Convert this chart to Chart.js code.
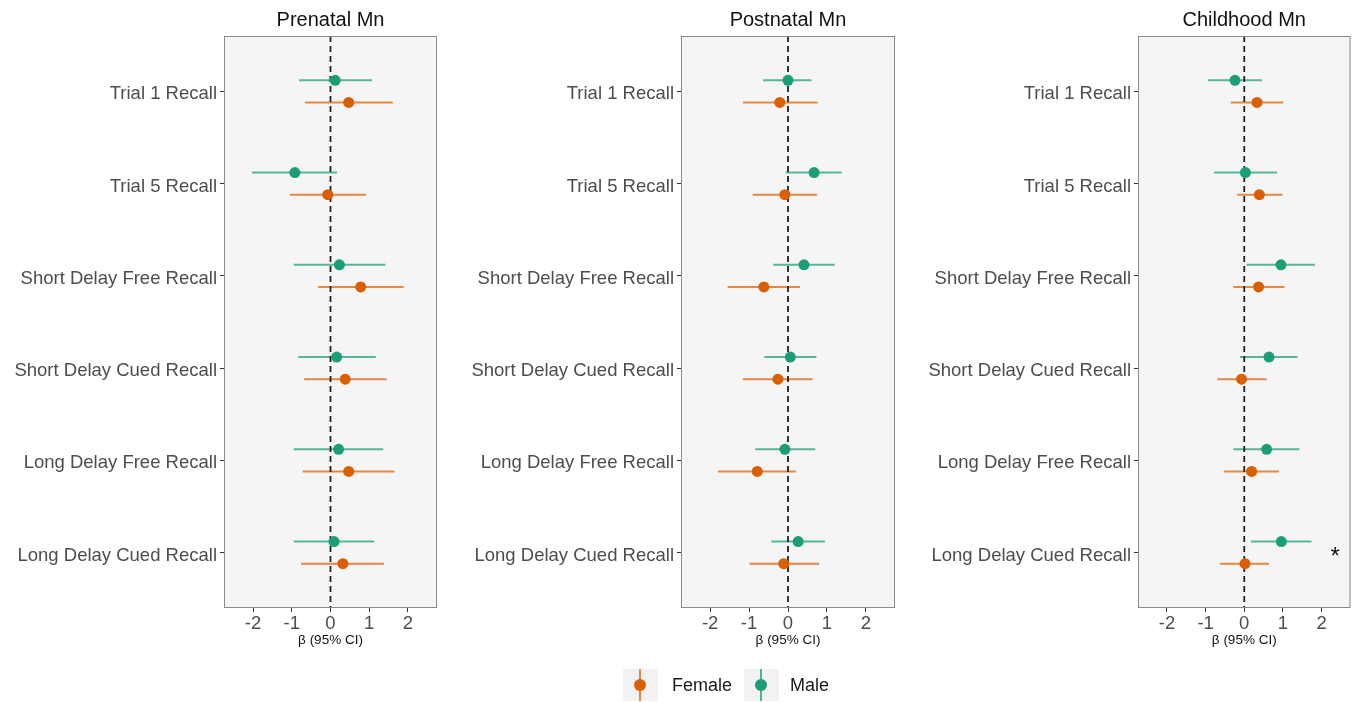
<!DOCTYPE html>
<html>
<head>
<meta charset="utf-8">
<script src="https://cdn.jsdelivr.net/npm/chart.js@4.4.1/dist/chart.umd.min.js"></script>
<style>
  body { margin: 0; background: #fff; width: 1356px; height: 702px; position: relative; overflow: hidden;
         font-family: "Liberation Sans", Arial, sans-serif; }
  canvas { position: absolute; top: 0; }
  #legend { position: absolute; top: 669px; left: 623px; display: flex; align-items: center; font-size: 18px; color: #1a1a1a; }
  .key { width: 35px; height: 32px; background: #f2f2f2; position: relative; margin-right: 14px; }
  .key .bar { position: absolute; left: 16px; top: 0; width: 2px; height: 32px; }
  .key .dot { position: absolute; left: 11px; top: 10px; width: 12px; height: 12px; border-radius: 50%; }
  .lab { margin-right: 12px; }
</style>
</head>
<body>
<canvas id="prenatal" width="445" height="702" style="left:0px"></canvas>
<canvas id="postnatal" width="455" height="702" style="left:450px"></canvas>
<canvas id="childhood" width="451" height="702" style="left:905px"></canvas>
<div id="legend">
  <div class="key"><div class="bar" style="background:rgba(217,95,2,0.75)"></div><div class="dot" style="background:#D95F02"></div></div>
  <span class="lab">Female</span>
  <div class="key" style="margin-right:11px"><div class="bar" style="background:rgba(27,158,119,0.75)"></div><div class="dot" style="background:#1B9E77"></div></div>
  <span>Male</span>
</div>
<script>
// outcomes (top to bottom) and x ticks
const rows = ['Trial 1 Recall', 'Trial 5 Recall', 'Short Delay Free Recall',
              'Short Delay Cued Recall', 'Long Delay Free Recall', 'Long Delay Cued Recall'];
const xTicks = [-2, -1, 0, 1, 2];

// Prenatal Mn
const prenatalFemale   = [0.47, -0.07, 0.78, 0.38, 0.47, 0.32];
const prenatalFemaleLo = [-0.66, -1.05, -0.32, -0.68, -0.72, -0.76];
const prenatalFemaleHi = [1.61, 0.92, 1.89, 1.45, 1.65, 1.38];
const prenatalMale     = [0.12, -0.92, 0.23, 0.16, 0.21, 0.09];
const prenatalMaleLo   = [-0.81, -2.03, -0.95, -0.83, -0.95, -0.95];
const prenatalMaleHi   = [1.07, 0.17, 1.42, 1.17, 1.36, 1.13];

// Postnatal Mn
const postnatalFemale   = [-0.21, -0.08, -0.62, -0.26, -0.79, -0.11];
const postnatalFemaleLo = [-1.16, -0.91, -1.55, -1.16, -1.80, -0.99];
const postnatalFemaleHi = [0.76, 0.75, 0.31, 0.63, 0.20, 0.80];
const postnatalMale     = [0.00, 0.67, 0.41, 0.06, -0.08, 0.26];
const postnatalMaleLo   = [-0.64, -0.06, -0.38, -0.61, -0.84, -0.43];
const postnatalMaleHi   = [0.60, 1.38, 1.20, 0.73, 0.70, 0.95];

// Childhood Mn
const childhoodFemale   = [0.33, 0.39, 0.37, -0.07, 0.19, 0.02];
const childhoodFemaleLo = [-0.35, -0.18, -0.28, -0.70, -0.52, -0.63];
const childhoodFemaleHi = [1.01, 0.99, 1.04, 0.58, 0.90, 0.64];
const childhoodMale     = [-0.24, 0.03, 0.95, 0.64, 0.58, 0.96];
const childhoodMaleLo   = [-0.94, -0.78, 0.06, -0.11, -0.28, 0.17];
const childhoodMaleHi   = [0.46, 0.85, 1.83, 1.38, 1.43, 1.74];

// significance marker (childhood, Long Delay Cued Recall)
const starRow = 6;
const starX = 2.35;

const FONT = '"Liberation Sans", Arial, sans-serif';
const FEMALE = '#D95F02', MALE = '#1B9E77';
const DODGE = 0.12;

// background, zero line, CI bars, border, title, asterisk
const forestPlugin = {
    id: 'forest',
    beforeDraw(chart) {
        const { ctx, chartArea: a } = chart;
        ctx.save();
        ctx.fillStyle = '#f5f5f5';
        ctx.fillRect(a.left, a.top, a.right - a.left, a.bottom - a.top);
        ctx.restore();
    },
    beforeDatasetsDraw(chart) {
        const { ctx, chartArea: a, scales } = chart;
        ctx.save();
        // CI lines
        chart.data.datasets.forEach(ds => {
            ctx.strokeStyle = ds.barColor;
            ctx.lineWidth = 2;
            ds.data.forEach((p, i) => {
                const y = scales.y.getPixelForValue(p.y);
                ctx.beginPath();
                ctx.moveTo(scales.x.getPixelForValue(ds.lo[i]), y);
                ctx.lineTo(scales.x.getPixelForValue(ds.hi[i]), y);
                ctx.stroke();
            });
        });
        // dashed zero line
        const x0 = scales.x.getPixelForValue(0);
        ctx.strokeStyle = '#222';
        ctx.lineWidth = 1.8;
        ctx.setLineDash([6, 4]);
        ctx.beginPath();
        ctx.moveTo(x0, a.top);
        ctx.lineTo(x0, a.bottom);
        ctx.stroke();
        ctx.restore();
    },
    afterDraw(chart, args, opts) {
        const { ctx, chartArea: a, scales } = chart;
        ctx.save();
        ctx.strokeStyle = '#8a8a8a';
        ctx.lineWidth = 1;
        ctx.strokeRect(a.left + 0.5, a.top + 0.5, a.right - a.left - 1, a.bottom - a.top - 1);
        ctx.fillStyle = '#111';
        ctx.font = '20px ' + FONT;
        ctx.textAlign = 'center';
        ctx.textBaseline = 'middle';
        ctx.fillText(opts.title, (a.left + a.right) / 2, a.top - 16);
        if (opts.star) {
            ctx.font = '24px ' + FONT;
            ctx.fillText('*', scales.x.getPixelForValue(starX), scales.y.getPixelForValue(starRow) + 5);
        }
        ctx.restore();
    }
};

function makePanel(id, title, yWidth, padRight, female, fLo, fHi, male, mLo, mHi, star) {
    new Chart(document.getElementById(id), {
        type: 'scatter',
        data: {
            datasets: [
                {
                    label: 'Female',
                    data: female.map((v, i) => ({ x: v, y: i + 1 + DODGE })),
                    lo: fLo, hi: fHi,
                    backgroundColor: FEMALE,
                    barColor: 'rgba(217,95,2,0.72)',
                    pointRadius: 5.5,
                    borderWidth: 0
                },
                {
                    label: 'Male',
                    data: male.map((v, i) => ({ x: v, y: i + 1 - DODGE })),
                    lo: mLo, hi: mHi,
                    backgroundColor: MALE,
                    barColor: 'rgba(27,158,119,0.72)',
                    pointRadius: 5.5,
                    borderWidth: 0
                }
            ]
        },
        options: {
            responsive: false,
            animation: false,
            devicePixelRatio: 1,
            layout: { padding: { top: 36, right: padRight, bottom: 54, left: 0 } },
            plugins: {
                legend: { display: false },
                tooltip: { enabled: false },
                forest: { title: title, star: star }
            },
            scales: {
                x: {
                    type: 'linear',
                    min: -2.75,
                    max: 2.75,
                    afterBuildTicks: s => { s.ticks = xTicks.map(v => ({ value: v })); },
                    afterFit: s => { s.height = 40; },
                    ticks: { font: { size: 18.5, family: FONT, lineHeight: 1 }, color: '#4d4d4d', padding: 3, maxRotation: 0 },
                    grid: { drawOnChartArea: false, tickLength: 4, color: '#333' },
                    border: { display: false },
                    title: { display: true, text: 'β (95% CI)', font: { size: 13.5, family: FONT }, color: '#111', padding: { top: 0, bottom: 0 } }
                },
                y: {
                    type: 'linear',
                    reverse: true,
                    min: 0.4,
                    max: 6.6,
                    afterBuildTicks: s => { s.ticks = rows.map((r, i) => ({ value: i + 1 })); },
                    afterFit: s => { s.width = yWidth; },
                    ticks: {
                        callback: (v, i) => rows[i],
                        autoSkip: false,
                        font: { size: 18.5, family: FONT },
                        color: '#4d4d4d',
                        padding: 3,
                        labelOffset: 3
                    },
                    grid: { drawOnChartArea: false, tickLength: 4, color: '#333' },
                    border: { display: false }
                }
            }
        },
        plugins: [forestPlugin]
    });
}

makePanel('prenatal', 'Prenatal Mn', 224, 8,
    prenatalFemale, prenatalFemaleLo, prenatalFemaleHi, prenatalMale, prenatalMaleLo, prenatalMaleHi, false);
makePanel('postnatal', 'Postnatal Mn', 231, 10,
    postnatalFemale, postnatalFemaleLo, postnatalFemaleHi, postnatalMale, postnatalMaleLo, postnatalMaleHi, false);
makePanel('childhood', 'Childhood Mn', 233, 3,
    childhoodFemale, childhoodFemaleLo, childhoodFemaleHi, childhoodMale, childhoodMaleLo, childhoodMaleHi, true);
</script>
</body>
</html>
